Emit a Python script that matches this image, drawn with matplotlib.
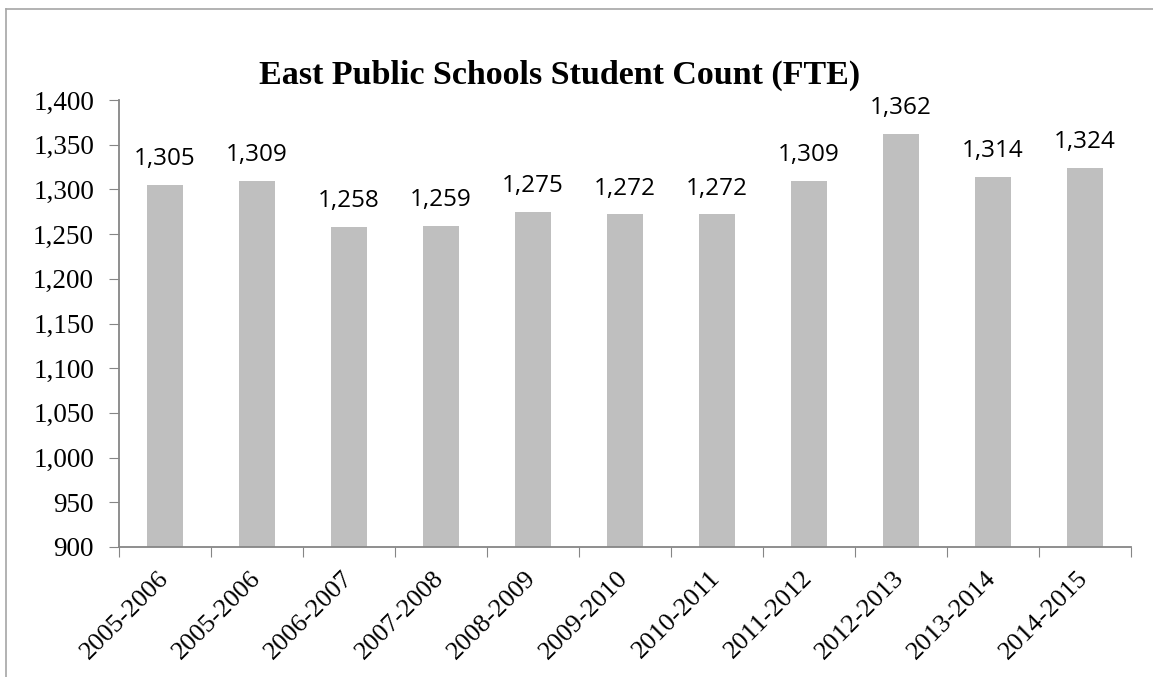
import matplotlib
matplotlib.use("Agg")
import matplotlib.pyplot as plt
from matplotlib.lines import Line2D

categories = ["2005-2006", "2005-2006", "2006-2007", "2007-2008", "2008-2009",
              "2009-2010", "2010-2011", "2011-2012", "2012-2013", "2013-2014", "2014-2015"]
values = [1305, 1309, 1258, 1259, 1275, 1272, 1272, 1309, 1362, 1314, 1324]
yticks = list(range(900, 1401, 50))
title = "East Public Schools Student Count (FTE)"

W, H = 1153, 677
fig = plt.figure(figsize=(W / 100, H / 100), dpi=100)
ax = fig.add_axes([119 / W, 1 - 547 / H, (1131 - 119) / W, (547 - 100) / H])

serif = "Liberation Serif"
spine_c = "#868686"

x = list(range(len(categories)))
ax.bar(x, [v - 900 for v in values], bottom=900, width=0.4, color="#BFBFBF")
ax.set_xlim(-0.5, len(categories) - 0.5)
ax.set_ylim(900, 1400)

for xi, v in zip(x, values):
    ax.annotate(f"{v:,}", (xi, v), xytext=(0, 10), textcoords="offset points",
                ha="center", va="bottom", fontsize=17.5, family="Open Sans", color="black")

ax.set_yticks(yticks)
ax.set_yticklabels([f"{t:,}" for t in yticks], family=serif, fontsize=19.5)
ax.set_xticks([i - 0.5 for i in range(len(categories) + 1)], minor=False)
ax.set_xticklabels([])
ax.set_xticks(x, minor=True)
ax.set_xticklabels(categories, minor=True, rotation=45, ha="right", va="center",
                   rotation_mode="anchor", family=serif, fontsize=19)
ax.tick_params(axis="x", which="minor", length=0, pad=20)
ax.tick_params(axis="x", which="major", length=7, color=spine_c, direction="out")
ax.tick_params(axis="y", length=7, color=spine_c, direction="out", pad=11)

for s in ["top", "right"]:
    ax.spines[s].set_visible(False)
for s in ["left", "bottom"]:
    ax.spines[s].set_color(spine_c)
    ax.spines[s].set_linewidth(1.3)

fig.text(560 / W, 1 - 75 / H, title, ha="center", va="center",
         family=serif, fontweight="bold", fontsize=24.5)

border_c = "#A6A6A6"
fig.add_artist(Line2D([6 / W, 1], [1 - 9 / H, 1 - 9 / H], color=border_c, lw=1.2))
fig.add_artist(Line2D([6 / W, 6 / W], [0, 1 - 9 / H], color=border_c, lw=1.2))

fig.savefig("out.png", dpi=100)
